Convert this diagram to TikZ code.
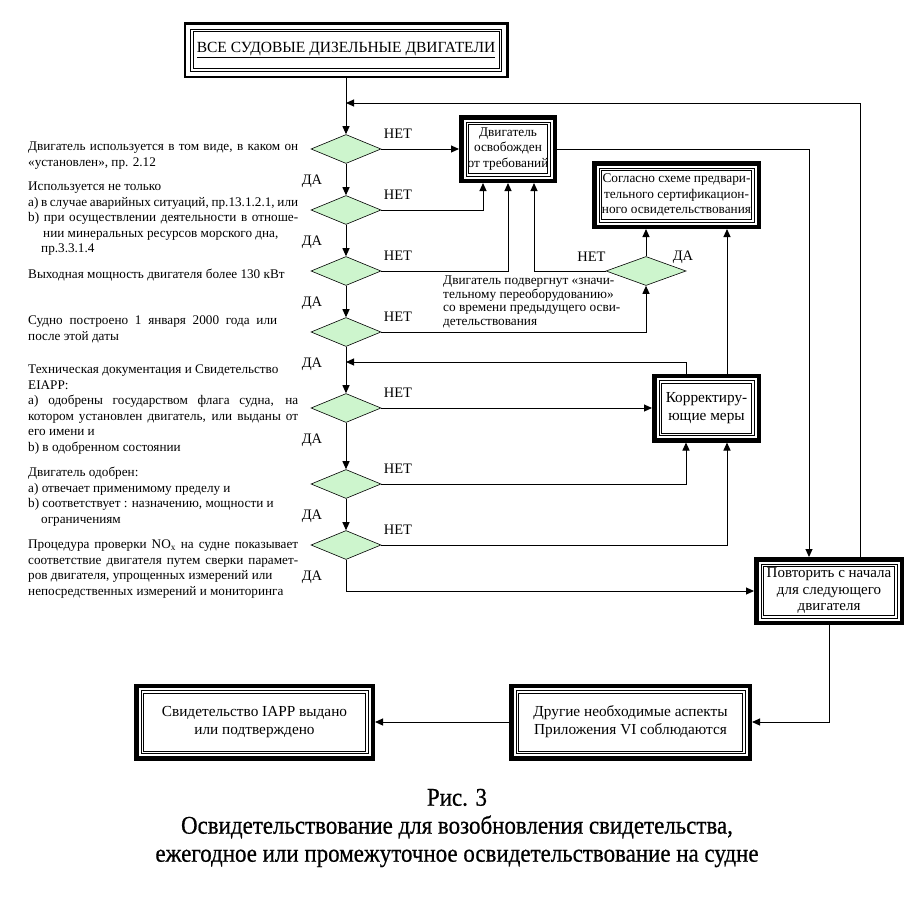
\documentclass[tikz,border=0pt]{standalone}
\usepackage{fontspec}
\setmainfont{Liberation Serif}
\newfontfamily\capfont[FakeStretch=0.9,FakeBold=0.6]{Liberation Serif}
\usetikzlibrary{arrows.meta,shapes.geometric}
\tikzset{>={Triangle[length=8pt,width=7pt]}}
\definecolor{lgreen}{RGB}{205,245,205}
\newcommand*{\jl}[2][270pt]{\makebox[#1][s]{#2}}
\newcommand*{\frm}[1]{%
  \draw[line width=.5pt]
    ([shift={(7pt,-7pt)}]#1.north west) rectangle ([shift={(-7pt,7pt)}]#1.south east)
    ([shift={(9.5pt,-9.5pt)}]#1.north west) rectangle ([shift={(-9.5pt,9.5pt)}]#1.south east);}
\tikzset{
  box/.style={draw,line width=4.5pt,inner sep=0pt,align=center,
    font=\fontsize{13.3}{15.5}\selectfont},
  bigbox/.style={box,font=\fontsize{15.3}{18}\selectfont},
  dmd/.style={diamond,draw,fill=lgreen,line width=.6pt,inner sep=0pt,
    minimum width=70pt,minimum height=29pt},
  lbl/.style={inner sep=0pt,font=\fontsize{14.5}{16}\selectfont},
  txt/.style={anchor=north west,inner sep=0pt,align=left,
    font=\fontsize{13.2}{15.5}\selectfont},
  wire/.style={line width=1pt}
}

\begin{document}
\begin{tikzpicture}[x=1pt,y=-1pt]
\useasboundingbox (0,0) rectangle (915,913);
\node[box,line width=2.5pt,minimum width=322.5pt,minimum height=53.5pt,
  font=\fontsize{15.5}{17}\selectfont] (all) at (346,50)
  {\underline{ВСЕ СУДОВЫЕ ДИЗЕЛЬНЫЕ ДВИГАТЕЛИ}};
\node[box,minimum width=93.5pt,minimum height=63.5pt] (exempt) at (508,149)
  {Двигатель\\освобожден\\от требований};
\node[box,minimum width=164.5pt,minimum height=63.5pt] (cert) at (676.5,195)
  {Согласно схеме предвари-\\тельного сертификацион-\\ного освидетельствования};
\node[bigbox,minimum width=104.5pt,minimum height=64.5pt] (corr) at (706.5,408)
  {Корректиру-\\ющие меры};
\node[bigbox,minimum width=145.5pt,minimum height=63.5pt,
  font=\fontsize{15}{16.5}\selectfont] (rep) at (829,591)
  {Повторить с начала\\для следующего\\двигателя};
\node[bigbox,minimum width=238.5pt,minimum height=72.5pt] (other) at (630.5,722)
  {Другие необходимые аспекты\\Приложения VI соблюдаются};
\node[bigbox,minimum width=236.5pt,minimum height=72.5pt] (iapp) at (254.5,722)
  {Свидетельство IAPP выдано\\или подтверждено};
\foreach \b in {all,exempt,cert,corr,rep,other,iapp}
  \frm{\b};

\foreach \i/\y in {1/149,2/210,3/271,4/332,5/408,6/484,7/545} {
  \node[dmd] (q\i) at (346,\y) {};
  \node[lbl] (no\i) at (398,\y-15) {НЕТ};
  \node[lbl] (yes\i) at (312,\y+32) {ДА};
}
\node[dmd,minimum width=80pt] (q8) at (646,271) {};
\node[lbl] (no8) at (591.5,257) {НЕТ};
\node[lbl] (yes8) at (683,257) {ДА};

\node[txt] (t1) at (28,142)
  {\jl{Двигатель используется в том виде, в каком он}\\«установлен», пр. 2.12};
\node[txt] (t2) at (28,182)
  {Используется не только\\
   \jl{a) в случае аварийных ситуаций, пр.13.1.2.1, или}\\
   \jl{b) при осуществлении деятельности в отноше-}\\
   \hspace*{15pt}нии минеральных ресурсов морского дна,\\
   \hspace*{13pt}пр.3.3.1.4};
\node[txt] (t3) at (28,269) {Выходная мощность двигателя более 130 кВт};
\node[txt] (t4) at (28,316)
  {\jl[249pt]{Судно построено 1 января 2000 года или}\\после этой даты};
\node[txt] (t5) at (28,365)
  {Техническая документация и Свидетельство\\EIAPP:\\
   \jl{a) одобрены государством флага судна, на}\\
   \jl{котором установлен двигатель, или выданы от}\\
   его имени и\\b) в одобренном состоянии};
\node[txt] (t6) at (28,467)
  {Двигатель одобрен:\\a) отвечает применимому пределу и\\
   b) соответствует : назначению, мощности и\\
   \hspace*{13pt}ограничениям};
\node[txt] (t7) at (28,540)
  {\jl{Процедура проверки NO\textsubscript{x} на судне показывает}\\
   \jl{соответствие двигателя путем сверки парамет-}\\
   ров двигателя, упрощенных измерений или\\
   непосредственных измерений и мониторинга};
\node[txt,font=\fontsize{13.3}{13.6}\selectfont] (t8) at (443,275.5)
  {Двигатель подвергнут «значи-\\тельному переоборудованию»\\
   со времени предыдущего осви-\\детельствования};

\coordinate (ret1) at (346,103);
\coordinate (ret2) at (346,362);
\draw[wire,->] (all) -- (q1);
\foreach \i/\j in {1/2,2/3,3/4,4/5,5/6,6/7}
  \draw[wire,->] (q\i) -- (q\j);
\draw[wire,->] (q1.east) -- (exempt.west);
\draw[wire,->] (q2.east) -| ([xshift=-25pt]exempt.south);
\draw[wire,->] (q3.east) -| (exempt.south);
\draw[wire,->] (q8.west) -| ([xshift=26pt]exempt.south);
\draw[wire,->] (q4.east) -| (q8.south);
\draw[wire,->] (q8.north) -- (q8.north |- cert.south);
\draw[wire,->] (q5.east) -- (corr.west);
\draw[wire,->] (q6.east) -| ([xshift=-20.5pt]corr.south);
\draw[wire,->] (q7.east) -| ([xshift=20.5pt]corr.south);
\draw[wire,->] ([xshift=20.5pt]corr.north) -- ([xshift=20.5pt]corr.north |- cert.south);
\draw[wire,->] ([xshift=-20.5pt]corr.north) |- (ret2);
\draw[wire,->] (q7.south) |- (rep.west);
\draw[wire,->] (exempt.east) -| ([xshift=-20pt]rep.north);
\draw[wire,->] ([xshift=31pt]rep.north) |- (ret1);
\draw[wire,->] (rep.south) |- (other.east);
\draw[wire,->] (other) -- (iapp);

\node[align=center,font=\capfont\fontsize{25.5}{28}\selectfont] (cap) at (457,828)
  {Рис. 3\\Освидетельствование для возобновления свидетельства,\\
   ежегодное или промежуточное освидетельствование на судне};
\end{tikzpicture}
\end{document}
